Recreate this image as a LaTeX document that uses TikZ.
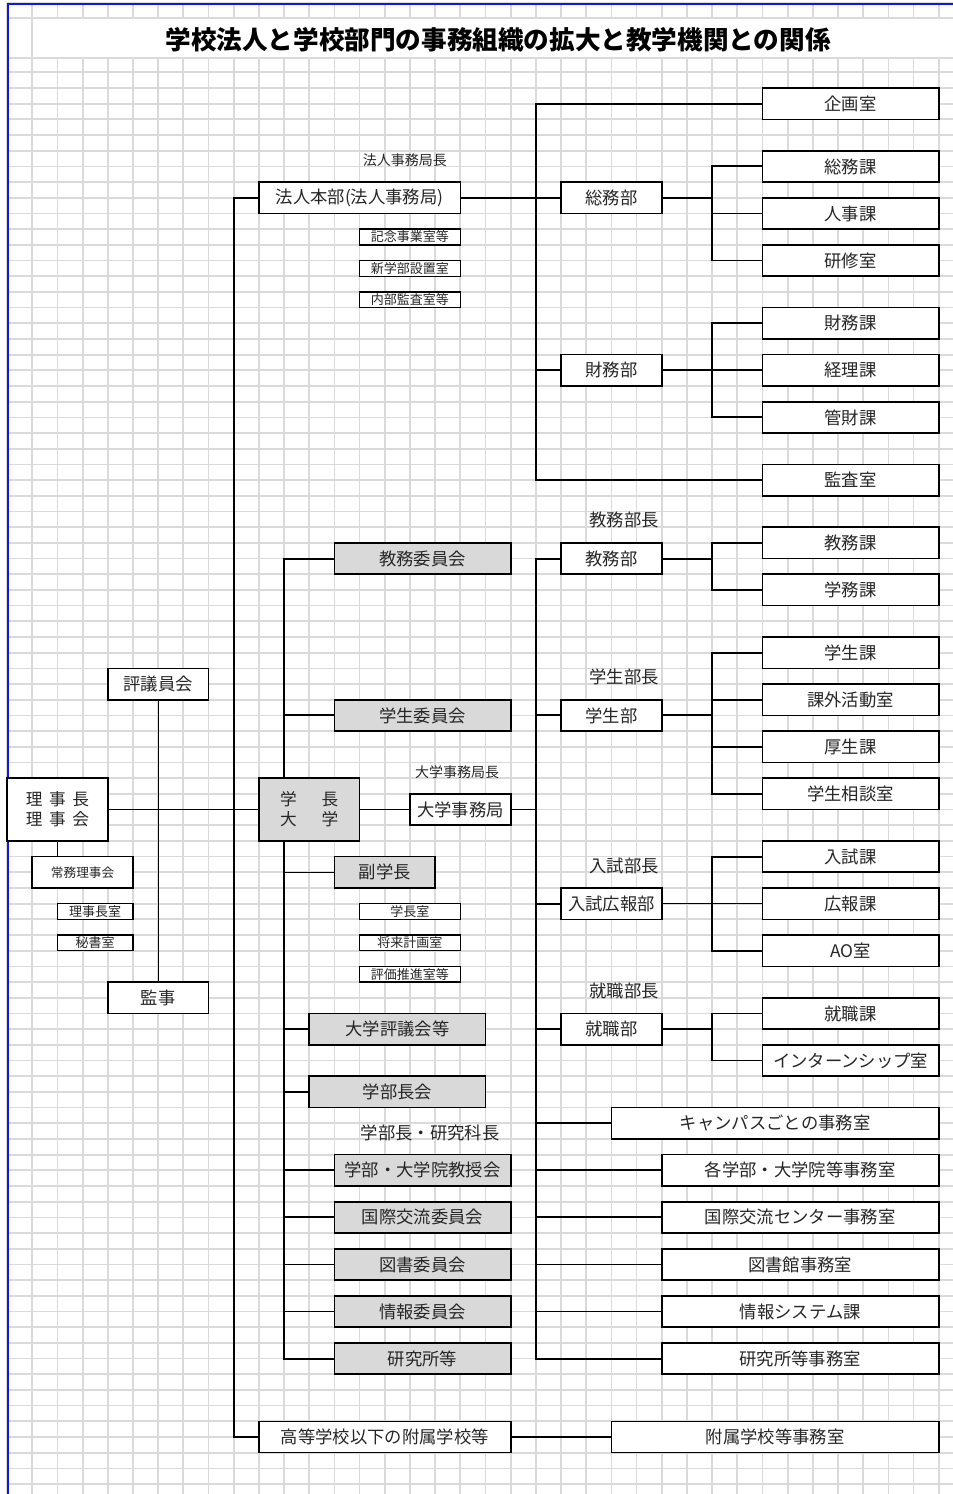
\documentclass[tikz,border=0pt]{standalone}
\usepackage{fontspec}
\setmainfont{Noto Sans CJK JP}
\usetikzlibrary{positioning,calc}
\usepackage{xcolor}
\definecolor{sheetgray}{RGB}{218,218,218}
\definecolor{boxgray}{RGB}{217,217,217}
\definecolor{pageblue}{RGB}{20,20,230}
\newcommand{\colw}{18.885pt}
\newcommand{\rowh}{11.7645pt}

\begin{document}
\begin{tikzpicture}[
    x=18.885pt, y=-11.7645pt,
    sheetline/.style={draw=sheetgray, line width=1.3pt},
    cells/.style 2 args={minimum width=#1*\colw, minimum height=#2*\rowh},
    box/.style={draw, line width=1.2pt, fill=white, inner sep=0pt, text=black!85, font=\fontsize{13}{15}\selectfont},
    gbox/.style={box, fill=boxgray},
    ka/.style={box, cells={7}{2}},
    bu/.style={box, cells={4}{2}},
    sbox/.style={box, line width=1pt, cells={4}{1}, font=\fontsize{9.75}{11}\selectfont},
    lbl/.style={inner sep=0pt, text=black!85, font=\fontsize{13}{15}\selectfont},
    slbl/.style={lbl, font=\fontsize{10.5}{12}\selectfont},
    link/.style={line width=1.4pt},
    thinlink/.style={line width=0.8pt}
  ]
  \useasboundingbox (-0.282,-4.609) rectangle (37.526,90.635);

  % sheet
  \foreach \k in {0,1} \draw[sheetline] (\k,-4.42) -- (\k,90.7);
  \foreach \k in {2,...,37} {
    \draw[sheetline] (\k,-4.42) -- (\k,-3.48);
    \draw[sheetline] (\k,-0.89) -- (\k,90.7);
  }
  \foreach \j in {-4.42,-3.48,-0.89,0,1,...,90} \draw[sheetline] (0,\j) -- (37.6,\j);
  \draw[pageblue, line width=1.5pt] (0.048,90.7) -- (0.048,-4.335) -- (37.6,-4.335);

  \node[font=\fontsize{19.2}{22}\selectfont\bfseries] (title) at (19.5,-2.1) {学校法人と学校部門の事務組織の拡大と教学機関との関係};

  % corporation side
  \node[box, cells={8}{2}] (houjin) at (14,8) {法人本部(法人事務局)};
  \node[slbl] (l-houjin) at (15.8,5.6) {法人事務局長};
  \node[sbox] (kinen) at (16,10.5) {記念事業室等};
  \node[sbox] (shingaku) at (16,12.5) {新学部設置室};
  \node[sbox] (naibu) at (16,14.5) {内部監査室等};
  \node[bu] (soumubu) at (24,8) {総務部};
  \node[bu] (zaimubu) at (24,19) {財務部};
  \node[ka] (kikaku) at (33.5,2) {企画室};
  \node[ka] (soumuka) at (33.5,6) {総務課};
  \node[ka] (jinjika) at (33.5,9) {人事課};
  \node[ka] (kenshu) at (33.5,12) {研修室};
  \node[ka] (zaimuka) at (33.5,16) {財務課};
  \node[ka] (keirika) at (33.5,19) {経理課};
  \node[ka] (kanzaika) at (33.5,22) {管財課};
  \node[ka] (kansa) at (33.5,26) {監査室};

  % board
  \node[bu] (hyougi) at (6,39) {評議員会};
  \node[box, cells={4}{4}, align=center, font=\fontsize{12.5}{15}\selectfont] (rijichou) at (2,47)
    {理\hspace{0.4em}事\hspace{0.4em}長\\理\hspace{0.4em}事\hspace{0.4em}会};
  \node[bu, font=\fontsize{9.5}{11}\selectfont] (joumu) at (3,51) {常務理事会};
  \node[sbox, cells={3}{1}] (rijishitsu) at (3.5,53.5) {理事長室};
  \node[sbox, cells={3}{1}] (hisho) at (3.5,55.5) {秘書室};
  \node[bu] (kanji) at (6,59) {監事};

  % university side
  \node[gbox, cells={4}{4}, align=center, font=\fontsize{12.5}{15}\selectfont] (gakuchou) at (12,47)
    {学\hspace{1.5em}長\\大\hspace{1.5em}学};
  \node[bu] (daijimu) at (18,47) {大学事務局};
  \node[slbl] (l-daijimu) at (17.87,44.59) {大学事務局長};
  \node[gbox, cells={7}{2}] (kyomui) at (16.5,31) {教務委員会};
  \node[gbox, cells={7}{2}] (gakuseii) at (16.5,41) {学生委員会};
  \node[gbox, cells={4}{2}] (fukugaku) at (15,51) {副学長};
  \node[sbox] (gakuchoushitsu) at (16,53.5) {学長室};
  \node[sbox] (shourai) at (16,55.5) {将来計画室};
  \node[sbox] (hyouka) at (16,57.5) {評価推進室等};
  \node[gbox, cells={7}{2}] (daihyougi) at (15.5,61) {大学評議会等};
  \node[gbox, cells={7}{2}] (gakubuchou) at (15.5,65) {学部長会};
  \node[lbl] (l-gakubu) at (16.8,67.6) {学部長・研究科長};
  \node[gbox, cells={7}{2}] (kyouju) at (16.5,70) {学部・大学院教授会};
  \node[gbox, cells={7}{2}] (kokusaii) at (16.5,73) {国際交流委員会};
  \node[gbox, cells={7}{2}] (toshoi) at (16.5,76) {図書委員会};
  \node[gbox, cells={7}{2}] (jouhoui) at (16.5,79) {情報委員会};
  \node[gbox, cells={7}{2}] (kenkyui) at (16.5,82) {研究所等};
  \node[box, cells={10}{2}] (koutou) at (15,87) {高等学校以下の附属学校等};

  \node[lbl] (l-kyoumu) at (24.5,28.55) {教務部長};
  \node[bu] (kyoumubu) at (24,31) {教務部};
  \node[ka] (kyoumuka) at (33.5,30) {教務課};
  \node[ka] (gakumuka) at (33.5,33) {学務課};
  \node[lbl] (l-gakusei) at (24.5,38.55) {学生部長};
  \node[bu] (gakuseibu) at (24,41) {学生部};
  \node[ka] (gakuseika) at (33.5,37) {学生課};
  \node[ka] (kagai) at (33.5,40) {課外活動室};
  \node[ka] (kousei) at (33.5,43) {厚生課};
  \node[ka] (soudan) at (33.5,46) {学生相談室};
  \node[lbl] (l-nyushi) at (24.5,50.58) {入試部長};
  \node[bu] (nyushibu) at (24,53) {入試広報部};
  \node[ka] (nyushika) at (33.5,50) {入試課};
  \node[ka] (kouhouka) at (33.5,53) {広報課};
  \node[ka] (aoshitsu) at (33.5,56) {AO室};
  \node[lbl] (l-shuushoku) at (24.5,58.55) {就職部長};
  \node[bu] (shuushokubu) at (24,61) {就職部};
  \node[ka] (shuushokuka) at (33.5,60) {就職課};
  \node[ka] (intern) at (33.5,63) {インターンシップ室};
  \node[box, cells={13}{2}] (campus) at (30.5,67) {キャンパスごとの事務室};
  \node[box, cells={11}{2}] (kakugakubu) at (31.5,70) {各学部・大学院等事務室};
  \node[box, cells={11}{2}] (kokusaic) at (31.5,73) {国際交流センター事務室};
  \node[box, cells={11}{2}] (toshokan) at (31.5,76) {図書館事務室};
  \node[box, cells={11}{2}] (jouhosys) at (31.5,79) {情報システム課};
  \node[box, cells={11}{2}] (kenkyujimu) at (31.5,82) {研究所等事務室};
  \node[box, cells={13}{2}] (fuzoku) at (30.5,87) {附属学校等事務室};

  % trunks
  \coordinate (t0) at (9,0);
  \coordinate (t1) at (21,0);
  \coordinate (t2) at (28,0);
  \coordinate (t3) at (11,0);

  \draw[link] (houjin.west) -| (t0 |- koutou.west) -- (koutou.west);
  \draw[link] (houjin.east) -- (soumubu.west);
  \draw[link] (kikaku.west) -| (t1 |- kansa.west) -- (kansa.west);
  \draw[link] (zaimubu.west) -- (t1 |- zaimubu.west);
  \draw[link] (soumuka.west) -| (t2 |- kenshu.west) -- (kenshu.west);
  \draw[link] (soumubu.east) -- (t2 |- soumubu.east);
  \draw[link] (jinjika.west) -- (t2 |- jinjika.west);
  \draw[link] (zaimuka.west) -| (t2 |- kanzaika.west) -- (kanzaika.west);
  \draw[link] (zaimubu.east) -- (keirika.west);

  \draw[thinlink] (rijichou.east) -- (gakuchou.west);
  \draw[thinlink] (gakuchou.east) -- (daijimu.west);
  \draw[thinlink] (daijimu.east) -- (t1 |- daijimu.east);
  \draw[link] (rijichou.south) -- (rijichou.south |- joumu.north);
  \draw[thinlink] (hyougi.south) -- (kanji.north);
  \draw[thinlink] (koutou.east) -- (fuzoku.west);

  \draw[link] (kyomui.west) -| (t3 |- gakuchou.north);
  \draw[link] (t3 |- gakuchou.south) |- (kenkyui.west);
  \foreach \n in {gakuseii, daihyougi, gakubuchou, kyouju, kokusaii}
    \draw[link] (t3 |- \n.west) -- (\n.west);
  \foreach \n in {fukugaku, toshoi, jouhoui}
    \draw[thinlink] (t3 |- \n.west) -- (\n.west);

  \draw[link] (kyoumubu.west) -| (t1 |- kenkyujimu.west) -- (kenkyujimu.west);
  \foreach \n in {gakuseibu, nyushibu, shuushokubu, campus, kakugakubu, kokusaic}
    \draw[link] (t1 |- \n.west) -- (\n.west);
  \foreach \n in {toshokan, jouhosys}
    \draw[thinlink] (t1 |- \n.west) -- (\n.west);

  \draw[link] (kyoumuka.west) -| (t2 |- gakumuka.west) -- (gakumuka.west);
  \draw[link] (kyoumubu.east) -- (t2 |- kyoumubu.east);
  \draw[link] (gakuseika.west) -| (t2 |- soudan.west) -- (soudan.west);
  \draw[link] (gakuseibu.east) -- (t2 |- gakuseibu.east);
  \foreach \n in {kagai, kousei}
    \draw[link] (t2 |- \n.west) -- (\n.west);
  \draw[link] (nyushika.west) -| (t2 |- aoshitsu.west) -- (aoshitsu.west);
  \draw[thinlink] (nyushibu.east) -- (kouhouka.west);
  \draw[link] (shuushokuka.west) -| (t2 |- intern.west) -- (intern.west);
  \draw[link] (shuushokubu.east) -- (t2 |- shuushokubu.east);
\end{tikzpicture}
\end{document}
